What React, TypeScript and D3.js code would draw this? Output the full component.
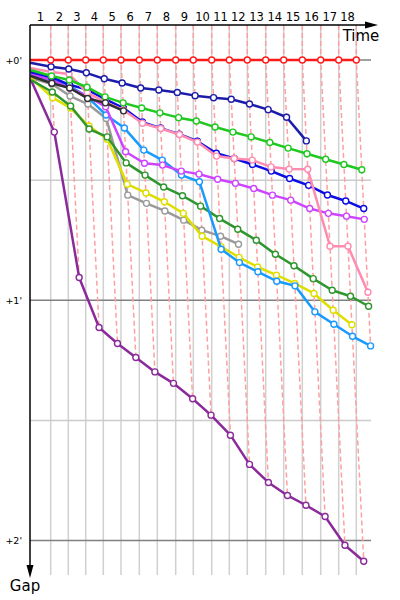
import React from 'react';
import * as d3 from 'd3';

// Leader lap times (seconds) – define the vertical lap grid
const leaderLapTimes = [103.5, 88, 87, 88, 88.5, 91.5, 90, 92, 88, 92, 88, 90, 92, 90, 93, 92, 90, 88];
const lapLabels = ['1', '2', '3', '4', '5', '6', '7', '8', '9', '10', '11', '12', '13', '14', '15', '16', '17', '18'];
const gapMajorTicks = [0, 60, 120];
const gapMajorLabels = ["+0'", "+1'", "+2'"];
const gapMinorTicks = [30, 90];

// Gaps to the leader (seconds), index 0 = start, index k = end of lap k
const redGaps = [0, 0, 0, 0, 0, 0, 0, 0, 0, 0, 0, 0, 0, 0, 0, 0, 0, 0, 0];
const navyGaps = [0.7, 1.7, 2.25, 3.2, 4.7, 5.75, 7, 7.5, 8.1, 8.9, 9.4, 9.8, 11, 12.4, 14.3, 20.2];
const greenGaps = [2.5, 4, 5, 6.8, 9.2, 10.7, 12, 13.2, 14.4, 15.25, 16.75, 18, 19.2, 20.6, 22, 23.4, 24.8, 26.1, 27.4];
const blueGaps = [3, 4.3, 6.2, 7.4, 9.8, 12, 15.5, 17, 18.5, 20.3, 23.3, 24.6, 26.1, 27.75, 29.6, 31.3, 33.7, 35.2, 37.1];
const magentaGaps = [3.5, 5, 7, 9, 11.7, 22.9, 25.8, 26.25, 27.75, 28.5, 29.8, 30.8, 32.1, 33.75, 35, 37.1, 38.3, 39, 39.8];
const pinkGaps = [2, 3, 3.5, 8.2, 10.5, 12.5, 15.8, 17.1, 18.6, 20.5, 24, 24.6, 25, 26.7, 27.25, 27.3, 46.5, 46.5, 58];
const lightBlueGaps = [3.75, 5, 6.5, 9.2, 13.75, 17, 22.5, 25, 28.75, 30.4, 47.25, 50.6, 52.9, 55.25, 56.4, 62.9, 66, 69, 71.4];
const blackGaps = [4, 5.8, 7, 9.6, 10.7, 12.7];
const grayGaps = [4.5, 6, 9, 11, 14.6, 33.75, 35.8, 37.7, 40, 42.5, 44, 46];
const darkGreenGaps = [5, 8, 11.5, 17.25, 19.2, 25.7, 28.75, 31.7, 33.9, 36.5, 39.6, 42.25, 45, 48.5, 51.4, 54.6, 57.5, 59, 61.5];
const yellowGaps = [4.5, 9.4, 12, 16.5, 19.8, 31, 33.2, 35.4, 38.3, 44, 46.6, 49.3, 51.7, 53.75, 55.8, 58.3, 62.5, 66.1];
const purpleGaps = [5, 18, 54.3, 66.8, 70.8, 74.3, 77.9, 80.75, 84.6, 88.7, 93.7, 101, 105.5, 108.75, 111.2, 114, 121.2, 125.2];

// drawing order (bottom to top)
const series = [
  { name: 'purple', color: '#8b2a9b', gaps: purpleGaps },
  { name: 'gray', color: '#9a9a9a', gaps: grayGaps },
  { name: 'yellow', color: '#dede00', gaps: yellowGaps },
  { name: 'darkgreen', color: '#2e962e', gaps: darkGreenGaps },
  { name: 'lightblue', color: '#1a9aff', gaps: lightBlueGaps },
  { name: 'magenta', color: '#cc44ff', gaps: magentaGaps },
  { name: 'blue', color: '#0c0ce6', gaps: blueGaps },
  { name: 'pink', color: '#ff8cb0', gaps: pinkGaps },
  { name: 'green', color: '#20c820', gaps: greenGaps },
  { name: 'black', color: '#303030', gaps: blackGaps },
  { name: 'navy', color: '#1c1caa', gaps: navyGaps },
  { name: 'red', color: '#ff1a1a', gaps: redGaps },
];

const FONT = 'DejaVu Sans, Verdana, sans-serif';

export default function App() {
  const cum = [0, ...Array.from(d3.cumsum(leaderLapTimes))];
  const total = cum[cum.length - 1];
  const x = d3.scaleLinear().domain([0, total]).range([30, 356.3]);
  const y = d3.scaleLinear().domain([0, 120]).range([60, 540.5]);
  const axisTop = 25;
  const gridBottom = 575;
  const gridRight = 371;

  const pts = (gaps: number[]) => gaps.map((g, k) => [x(cum[k] + g), y(g)] as [number, number]);
  const line = d3.line<[number, number]>();

  const dashed = lapLabels.map((_, i) => {
    const k = i + 1;
    const members = series
      .filter((s) => s.gaps.length > k)
      .map((s) => s.gaps[k])
      .sort((a, b) => a - b);
    const p: [number, number][] = [[x(cum[k]), axisTop], ...members.map((g) => [x(cum[k] + g), y(g)] as [number, number])];
    return line(p) as string;
  });

  return (
    <svg width={400} height={600} style={{ position: 'absolute', left: 0, top: 0, background: '#fff' }}>
      {/* vertical lap gridlines */}
      {cum.slice(1).map((c, i) => (
        <line key={'vg' + i} x1={x(c)} x2={x(c)} y1={axisTop} y2={gridBottom} stroke="#d0d0d0" strokeWidth={1.5} />
      ))}
      {/* horizontal gridlines */}
      {gapMinorTicks.map((t) => (
        <line key={'hm' + t} x1={30} x2={gridRight} y1={y(t)} y2={y(t)} stroke="#cccccc" strokeWidth={1.5} />
      ))}
      {gapMajorTicks.map((t) => (
        <line key={'hM' + t} x1={30} x2={gridRight} y1={y(t)} y2={y(t)} stroke="#808080" strokeWidth={1.3} />
      ))}
      {/* dashed lap connectors */}
      {dashed.map((d, i) => (
        <path key={'d' + i} d={d} fill="none" stroke="#ffa0a0" strokeWidth={1.5} strokeDasharray="5,3" />
      ))}
      {/* series */}
      {series.map((s) => {
        const p = pts(s.gaps);
        return (
          <g key={s.name}>
            <path d={line(p) as string} fill="none" stroke={s.color} strokeWidth={2.5} strokeLinejoin="round" />
            {p.slice(1).map((q, i) => (
              <circle key={i} cx={q[0]} cy={q[1]} r={3} fill="#fff" stroke={s.color} strokeWidth={1.4} />
            ))}
          </g>
        );
      })}
      {/* axes */}
      <line x1={30} x2={368} y1={axisTop} y2={axisTop} stroke="#000" strokeWidth={1.5} />
      <path d={`M365,${axisTop - 3.5} L378,${axisTop} L365,${axisTop + 3.5} Z`} fill="#000" />
      <line x1={30} x2={30} y1={axisTop} y2={568} stroke="#000" strokeWidth={1.5} />
      <path d={`M26.5,565 L30,578 L33.5,565 Z`} fill="#000" />
      {/* lap labels */}
      {lapLabels.map((l, i) => (
        <text key={'l' + i} x={x((cum[i] + cum[i + 1]) / 2)} y={21} textAnchor="middle" fontFamily={FONT} fontSize={11.5} fill="#000">
          {l}
        </text>
      ))}
      {/* gap labels */}
      {gapMajorTicks.map((t, i) => (
        <text key={'g' + i} x={22} y={y(t) + 3.5} textAnchor="end" fontFamily={FONT} fontSize={9.5} fill="#000">
          {gapMajorLabels[i]}
        </text>
      ))}
      <text x={361} y={41} textAnchor="middle" fontFamily={FONT} fontSize={15} fill="#000">Time</text>
      <text x={25} y={591} textAnchor="middle" fontFamily={FONT} fontSize={15} fill="#000">Gap</text>
    </svg>
  );
}
